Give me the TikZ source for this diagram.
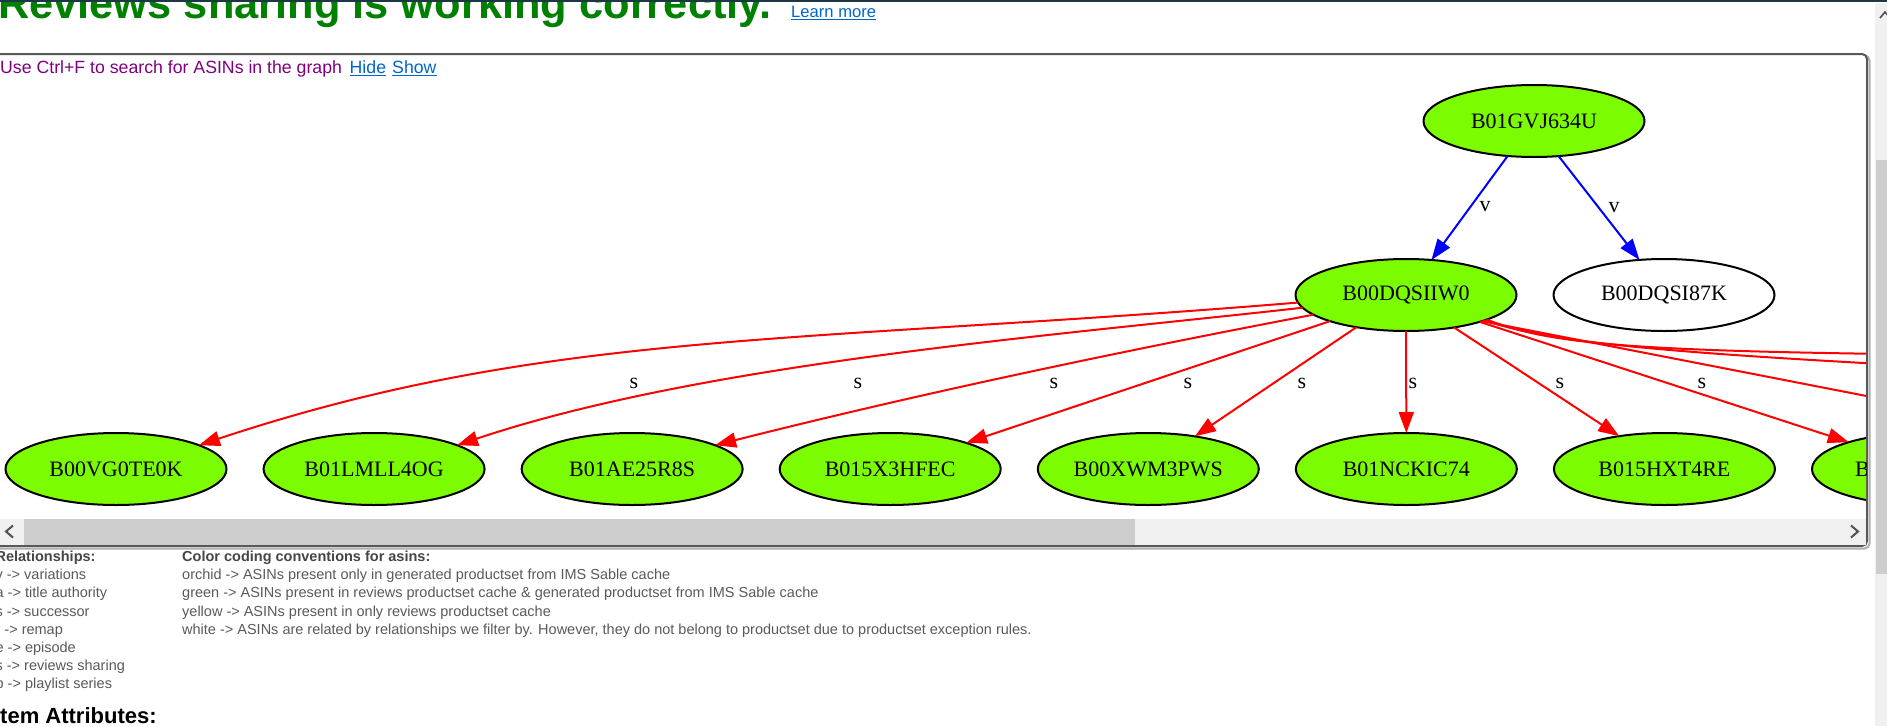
\documentclass[tikz,border=0pt]{standalone}
\usepackage{fontspec}
\setmainfont{Liberation Serif}
\newfontfamily\sansf{Liberation Sans}
\usetikzlibrary{shapes.geometric,arrows.meta}

\definecolor{asingreen}{RGB}{124,252,0}
\definecolor{titlegreen}{RGB}{0,128,0}
\definecolor{linkblue}{RGB}{0,102,204}
\definecolor{hintpurple}{RGB}{128,0,128}
\definecolor{legendgray}{RGB}{90,90,90}
\definecolor{legendhead}{RGB}{70,70,70}
\definecolor{trackgray}{RGB}{240,240,240}
\definecolor{thumbgray}{RGB}{205,205,205}
\definecolor{boxgray}{RGB}{88,88,88}
\definecolor{shadowgray}{RGB}{175,175,175}
\definecolor{topline}{RGB}{30,55,70}
\definecolor{arrowgray}{RGB}{80,80,80}
\definecolor{edgered}{RGB}{255,0,0}
\definecolor{edgeblue}{RGB}{0,0,255}

\begin{document}
\begin{tikzpicture}[x=1pt,y=-1pt,
  asin/.style={ellipse, draw=black, line width=2pt, minimum width=221pt, minimum height=72pt,
    inner sep=0pt, outer sep=0pt, font=\fontsize{22}{26}\selectfont},
  greenasin/.style={asin, fill=asingreen},
  whiteasin/.style={asin, fill=white},
  reledge/.style={line width=2pt, -{Triangle[length=21pt,width=15pt]}},
  sedge/.style={reledge, draw=edgered},
  vedge/.style={reledge, draw=edgeblue},
  farsedge/.style={line width=2pt, draw=edgered},
  elabel/.style={inner sep=0pt, font=\fontsize{22}{26}\selectfont},
  txt/.style={anchor=base west, inner sep=0pt, font=\sansf\fontsize{14.5}{17}\selectfont, text=legendgray},
  txthead/.style={anchor=base west, inner sep=0pt, font=\sansf\bfseries\fontsize{14.5}{17}\selectfont, text=legendhead},
  linktxt/.style={anchor=base west, inner sep=0pt, text=linkblue},
  chevron/.style={draw=arrowgray, line width=2pt},
]
\useasboundingbox (0,0) rectangle (1887,726);
\fill[white] (0,0) rectangle (1887,726);

% page header
\node[anchor=base west, inner sep=0pt, font=\sansf\bfseries\fontsize{43.4}{50}\selectfont, text=titlegreen]
  (title) at (-2,18.5) {Reviews sharing is working correctly.};
\node[linktxt, font=\sansf\fontsize{16.6}{20}\selectfont] (learn) at (791,17.3) {Learn more};
\draw[linkblue, line width=1.2pt] ([yshift=-2pt]learn.base west) -- ([yshift=-2pt]learn.base east);
\draw[topline, line width=1.6pt] (0,1) -- (1887,1);

% page scrollbar
\fill[trackgray] (1875,3) rectangle (1887,726);
\fill[thumbgray] (1876,160) rectangle (1887,574);
\draw[chevron, line width=1.6pt] (1880,18) -- (1885,12) -- (1890,18);

% graph box
\draw[shadowgray, line width=2pt, rounded corners=5pt] (-20,55.5) -- (1869.5,55.5) -- (1869.5,548.5) -- (-20,548.5);
\draw[boxgray, line width=2pt, fill=white, rounded corners=5pt] (-20,54) rectangle (1867,546);

\node[anchor=base west, inner sep=0pt, font=\sansf\fontsize{17.7}{21}\selectfont, text=hintpurple]
  (hint) at (0,73) {Use Ctrl+F to search for ASINs in the graph};
\node[linktxt, font=\sansf\fontsize{17.7}{21}\selectfont] (hide) at (349.5,73) {Hide};
\node[linktxt, font=\sansf\fontsize{17.7}{21}\selectfont] (show) at (392,73) {Show};
\draw[linkblue, line width=1.3pt] ([yshift=-2.2pt]hide.base west) -- ([yshift=-2.2pt]hide.base east);
\draw[linkblue, line width=1.3pt] ([yshift=-2.2pt]show.base west) -- ([yshift=-2.2pt]show.base east);

% horizontal scrollbar
\fill[trackgray] (0,519) rectangle (1866,545);
\fill[thumbgray] (24,519) rectangle (1135,545);
\draw[chevron] (13,525.5) -- (6,531.5) -- (13,537.5);
\draw[chevron] (1851,525.5) -- (1858,531.5) -- (1851,537.5);

% graph
\begin{scope}
\clip (0,56) rectangle (1866,519);
\node[greenasin] (top) at (1534,121) {B01GVJ634U};
\node[greenasin] (dq) at (1406,295) {B00DQSIIW0};
\node[whiteasin] (d87) at (1664,295) {B00DQSI87K};

\node[greenasin] (n0) at (116,469) {B00VG0TE0K};
\node[greenasin] (n1) at (374.07,469) {B01LMLL4OG};
\node[greenasin] (n2) at (632.14,469) {B01AE25R8S};
\node[greenasin] (n3) at (890.21,469) {B015X3HFEC};
\node[greenasin] (n4) at (1148.28,469) {B00XWM3PWS};
\node[greenasin] (n5) at (1406.35,469) {B01NCKIC74};
\node[greenasin] (n6) at (1664.42,469) {B015HXT4RE};
\node[greenasin] (n7) at (1922.49,469) {};
\node[anchor=base west, inner sep=0pt, font=\fontsize{22}{26}\selectfont] (n7text) at (1855,476.3) {B};

\coordinate (farA) at (2100,356);
\coordinate (farB) at (2100,375);
\coordinate (farC) at (2000,422);

% variation edges
\draw[vedge] (top.233.7) -- (dq.54.5);
\draw[vedge] (top.305.5) -- (d87.125.4);
\node[elabel] (lv1) at (1485,207) {v};
\node[elabel] (lv2) at (1614,208) {v};

% reviews sharing edges
\draw[sedge] (dq.184.3) .. controls (795,344) and (547,329.5) .. (n0.16.5);
\draw[sedge] (dq.187.3) .. controls (1052.7,335.8) and (704.5,362.5) .. (n1.16.6);
\draw[sedge] (dq.192) .. controls (1111.6,353) and (914,395) .. (n2.16.3);
\draw[sedge] (dq.199.3) -- (n3.19.3);
\draw[sedge] (dq.213.9) -- (n4.35.9);
\draw[sedge] (dq.270) -- (n5.90);
\draw[sedge] (dq.326.3) -- (n6.144.4);
\draw[sedge] (dq.340.6) -- (n7.160);
\draw[farsedge] (dq.343.6) .. controls (1560,347) and (1640,353) .. (farA);
\draw[farsedge] (dq.342.5) .. controls (1560,345) and (1680,355) .. (farB);
\draw[farsedge] (dq.341.5) -- (farC);

\node[elabel] (ls0) at (634,383) {s};
\node[elabel] (ls1) at (858,383) {s};
\node[elabel] (ls2) at (1054,383) {s};
\node[elabel] (ls3) at (1188,383) {s};
\node[elabel] (ls4) at (1302,383) {s};
\node[elabel] (ls5) at (1413,383) {s};
\node[elabel] (ls6) at (1560,383) {s};
\node[elabel] (ls7) at (1702,383) {s};
\end{scope}

% legend
\node[txthead] (relhead) at (-4.6,561.5) {Relationships:};
\node[txt] (rel1) at (-4.6,579.7) {v -> variations};
\node[txt] (rel2) at (-4.6,597.9) {a -> title authority};
\node[txt] (rel3) at (-4.6,616.1) {s -> successor};
\node[txt] (rel4) at (-4.6,634.3) {r -> remap};
\node[txt] (rel5) at (-4.6,652.5) {e -> episode};
\node[txt] (rel6) at (-4.6,670.7) {s -> reviews sharing};
\node[txt] (rel7) at (-4.6,688.9) {p -> playlist series};

\node[txthead] (colhead) at (182,561.5) {Color coding conventions for asins:};
\node[txt] (col1) at (182,579.7) {orchid -> ASINs present only in generated productset from IMS Sable cache};
\node[txt] (col2) at (182,597.9) {green -> ASINs present in reviews productset cache \& generated productset from IMS Sable cache};
\node[txt] (col3) at (182,616.1) {yellow -> ASINs present in only reviews productset cache};
\node[txt] (col4) at (182,634.3) {white -> ASINs are related by relationships we filter by. However, they do not belong to productset due to productset exception rules.};

\node[anchor=base west, inner sep=0pt, font=\sansf\bfseries\fontsize{22}{26}\selectfont, text=black]
  (itemattr) at (-6.1,723) {Item Attributes:};
\end{tikzpicture}
\end{document}
